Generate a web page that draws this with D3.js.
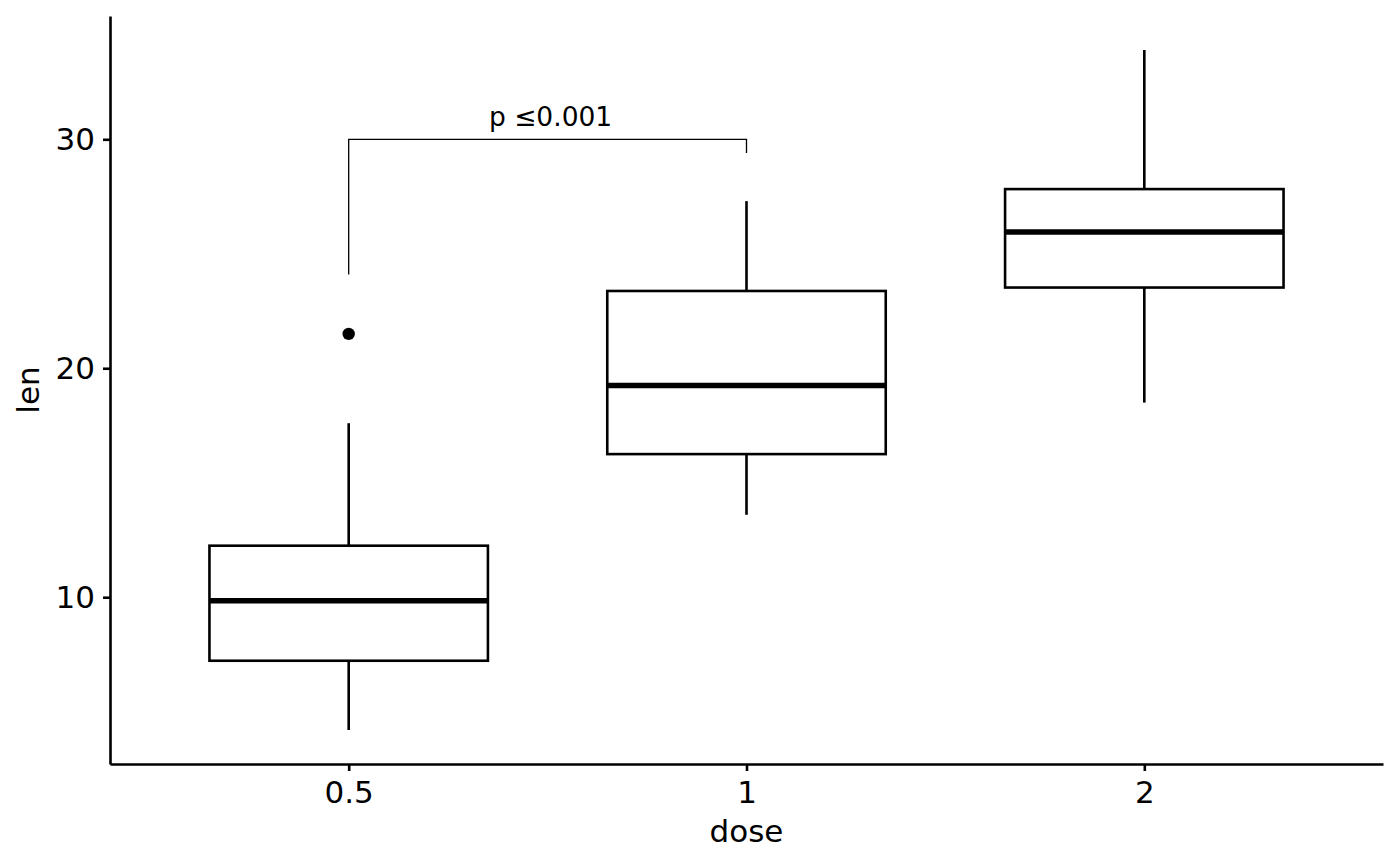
<!DOCTYPE html>
<html>
<head>
<meta charset="utf-8">
<script src="https://cdn.jsdelivr.net/npm/d3@7"></script>
<style>
  body { margin: 0; background: #fff; }
  svg { display: block; font-family: "DejaVu Sans", sans-serif; }
</style>
</head>
<body>
<svg id="chart"></svg>
<script>
const width = 1400,
    height = 866;
const margin = { top: 16, right: 17, bottom: 102, left: 110 };
const fontSize = 31;
const lineW = 2.6;

// ToothGrowth len by dose: box summary
const doses = ["0.5", "1", "2"];
const whiskerLow = [4.2, 13.6, 18.5];
const q1 = [7.225, 16.25, 23.525];
const median = [9.85, 19.25, 25.95];
const q3 = [12.25, 23.375, 27.825];
const whiskerHigh = [17.6, 27.3, 33.9];
const outliers = [{ dose: "0.5", len: 21.5 }];
const yTicks = [10, 20, 30];
const yDomain = [2.715, 35.385];

// significance bracket between 0.5 and 1
const bracketGroups = ["0.5", "1"];
const bracketY = 30;
const bracketTips = [24.1, 29.4];
const bracketLabel = "p \u22640.001";

const boxes = doses.map((d, i) => ({
    dose: d, lo: whiskerLow[i], q1: q1[i], med: median[i], q3: q3[i], hi: whiskerHigh[i]
}));

const svg = d3.select("svg#chart")
    .attr("width", width)
    .attr("height", height);

const x = d3.scalePoint()
    .domain(doses)
    .range([margin.left, width - margin.right])
    .padding(0.6);
const y = d3.scaleLinear()
    .domain(yDomain)
    .range([height - margin.bottom, margin.top]);
const boxHalf = x.step() * 0.35;

// axes
const xAxis = svg.append("g")
    .attr("transform", `translate(0,${height - margin.bottom})`)
    .call(d3.axisBottom(x).tickSize(7).tickSizeOuter(0).tickPadding(10));
const yAxis = svg.append("g")
    .attr("transform", `translate(${margin.left},0)`)
    .call(d3.axisLeft(y).tickValues(yTicks).tickSize(7).tickSizeOuter(0).tickPadding(8));
[xAxis, yAxis].forEach(a => {
    a.select(".domain").attr("stroke", "#000").attr("stroke-width", lineW);
    a.selectAll(".tick line").attr("stroke", "#000").attr("stroke-width", lineW);
    a.selectAll(".tick text")
        .attr("fill", "#000")
        .style("font-size", fontSize + "px")
        .style("font-family", "DejaVu Sans");
});

svg.append("text")
    .attr("x", (margin.left + width - margin.right) / 2)
    .attr("y", 842)
    .attr("text-anchor", "middle")
    .style("font-size", fontSize + "px")
    .text("dose");
svg.append("text")
    .attr("transform", `translate(39,${(margin.top + height - margin.bottom) / 2}) rotate(-90)`)
    .attr("text-anchor", "middle")
    .style("font-size", fontSize + "px")
    .text("len");

// boxplots
const box = svg.append("g")
    .selectAll("g")
    .data(boxes)
    .enter()
    .append("g");
box.append("line")
    .attr("x1", d => x(d.dose)).attr("x2", d => x(d.dose))
    .attr("y1", d => y(d.q3)).attr("y2", d => y(d.hi))
    .attr("stroke", "#000").attr("stroke-width", lineW);
box.append("line")
    .attr("x1", d => x(d.dose)).attr("x2", d => x(d.dose))
    .attr("y1", d => y(d.q1)).attr("y2", d => y(d.lo))
    .attr("stroke", "#000").attr("stroke-width", lineW);
box.append("rect")
    .attr("x", d => x(d.dose) - boxHalf)
    .attr("width", boxHalf * 2)
    .attr("y", d => y(d.q3))
    .attr("height", d => y(d.q1) - y(d.q3))
    .attr("fill", "#fff")
    .attr("stroke", "#000").attr("stroke-width", lineW);
box.append("line")
    .attr("x1", d => x(d.dose) - boxHalf).attr("x2", d => x(d.dose) + boxHalf)
    .attr("y1", d => y(d.med)).attr("y2", d => y(d.med))
    .attr("stroke", "#000").attr("stroke-width", 5.5);

svg.append("g")
    .selectAll("circle")
    .data(outliers)
    .enter()
    .append("circle")
    .attr("cx", d => x(d.dose))
    .attr("cy", d => y(d.len))
    .attr("r", 6.2)
    .attr("fill", "#000");

// bracket
const bx0 = x(bracketGroups[0]),
    bx1 = x(bracketGroups[1]);
svg.append("path")
    .attr("d", `M${bx0},${y(bracketTips[0])}V${y(bracketY)}H${bx1}V${y(bracketTips[1])}`)
    .attr("fill", "none")
    .attr("stroke", "#000")
    .attr("stroke-width", 1.3);
svg.append("text")
    .attr("x", (bx0 + bx1) / 2 + 3)
    .attr("y", y(bracketY) - 13)
    .attr("text-anchor", "middle")
    .style("font-size", "26.5px")
    .text(bracketLabel);
</script>
</body>
</html>
